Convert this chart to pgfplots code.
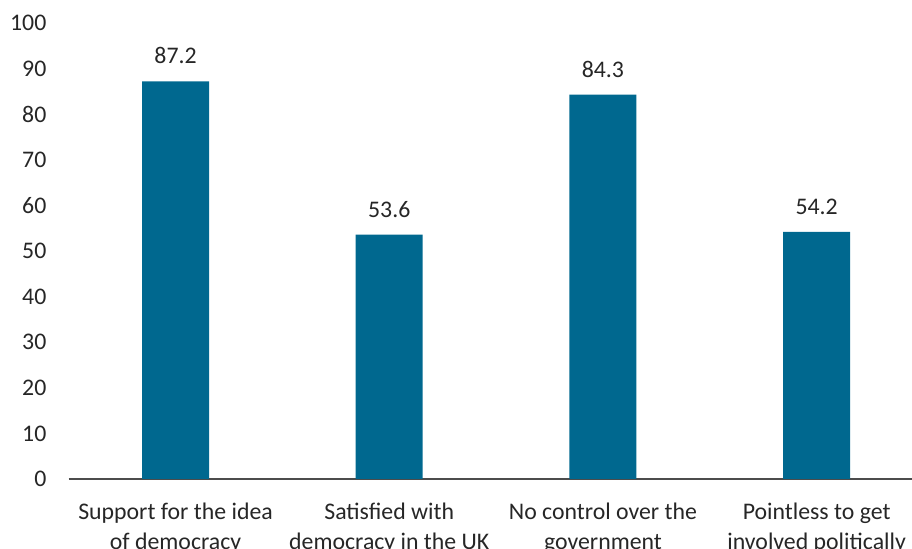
\documentclass[border=0pt]{standalone}
\usepackage{pgfplots}
\pgfplotsset{compat=1.18}
\usepackage{fontspec}
\setmainfont{Carlito}
\definecolor{barblue}{RGB}{0,104,143}
\definecolor{txt}{RGB}{38,38,38}
\begin{document}
\fontsize{11.9pt}{15pt}\selectfont
\begin{tikzpicture}
\begin{axis}[
  name=ax,
  scale only axis,
  width=427.4pt, height=228pt,
  xmin=-0.5, xmax=3.5, ymin=0, ymax=100,
  axis x line*=bottom, axis y line*=left,
  x axis line style={black!70, line width=0.6pt, -},
  y axis line style={draw=none},
  ytick={0,10,...,100},
  xtick={0,1,2,3},
  xticklabels={{Support for the idea\\of democracy},{Satisfied with\\democracy in the UK},{No control over the\\government},{Pointless to get\\involved politically}},
  major tick length=0pt,
  x tick label style={align=center, text=txt, font=\fontsize{11.9pt}{15pt}\selectfont, yshift=-8pt},
  y tick label style={text=txt, font=\fontsize{11.9pt}{15pt}\selectfont, xshift=-7pt},
  /pgf/number format/assume math mode=true,
  ybar, bar width=33.5pt,
  nodes near coords,
  nodes near coords style={text=txt, font=\fontsize{11.9pt}{15pt}\selectfont, /pgf/number format/fixed, /pgf/number format/fixed zerofill, /pgf/number format/precision=1, yshift=4.5pt},
  clip=false,
]
\addplot[fill=barblue, draw=none] coordinates {(0,87.2) (1,53.6) (2,84.3) (3,54.2)};
\end{axis}
\pgfresetboundingbox
\useasboundingbox ([shift={(-34.35pt,-35pt)}]ax.south west) rectangle ([shift={(421.65pt,239.5pt)}]ax.south west);
\end{tikzpicture}
\end{document}
